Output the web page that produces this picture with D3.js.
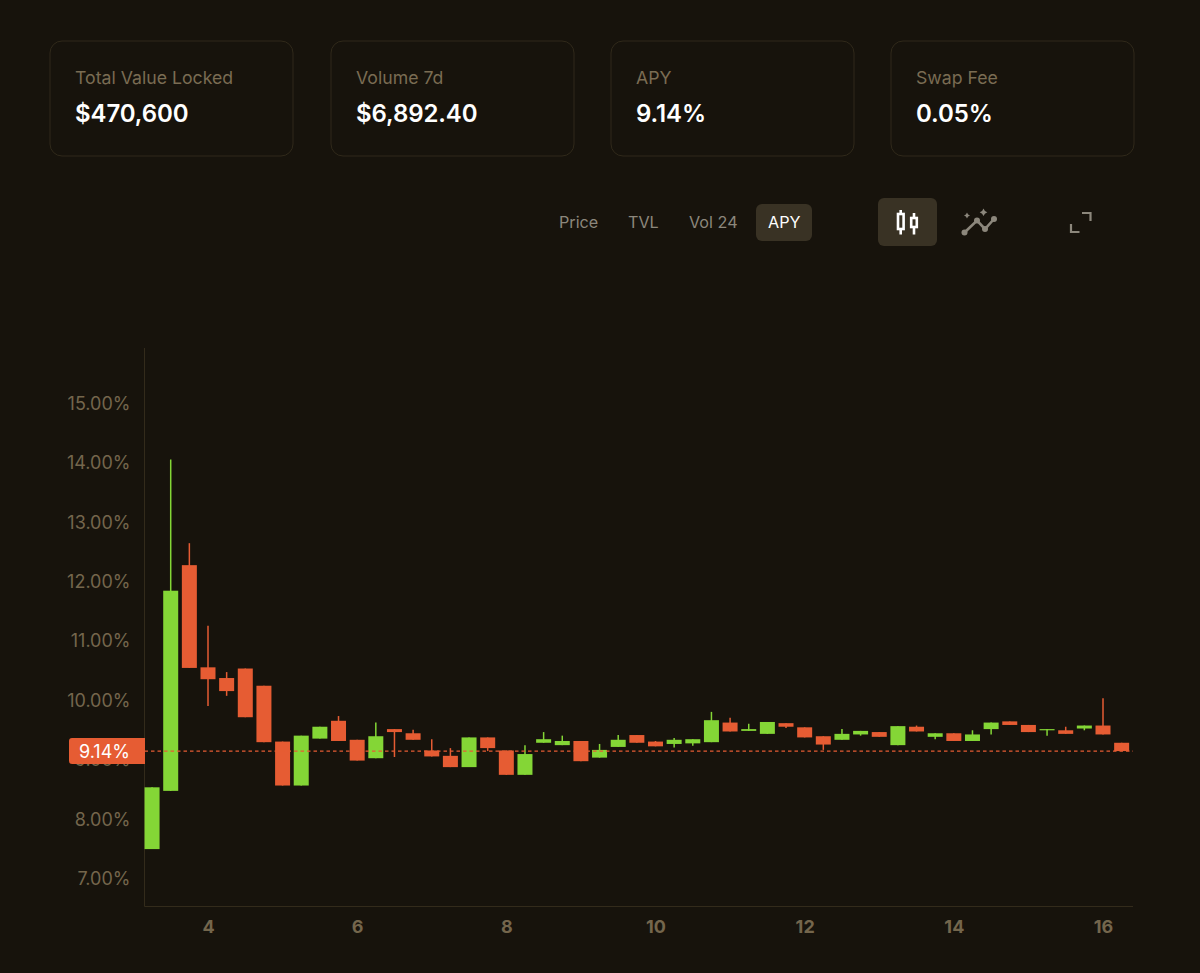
<!DOCTYPE html>
<html>
<head>
<meta charset="utf-8">
<title>APY</title>
<script src="https://cdn.jsdelivr.net/npm/d3@7/dist/d3.min.js"></script>
<style>
	html, body { margin: 0; padding: 0; background: #17130c; }
	svg { display: block; font-family: Inter, sans-serif; }
</style>
</head>
<body>
<div id="chart"></div>
<script>
// values
var statLabels = ["Total Value Locked", "Volume 7d", "APY", "Swap Fee"];
var statValues = ["$470,600", "$6,892.40", "9.14%", "0.05%"];
var tabLabels = ["Price", "TVL", "Vol 24", "APY"];

var days = [3.25, 3.5, 3.75, 4, 4.25, 4.5, 4.75, 5, 5.25, 5.5, 5.75, 6, 6.25, 6.5, 6.75, 7, 7.25, 7.5,
	7.75, 8, 8.25, 8.5, 8.75, 9, 9.25, 9.5, 9.75, 10, 10.25, 10.5, 10.75, 11, 11.25, 11.5, 11.75, 12,
	12.25, 12.5, 12.75, 13, 13.25, 13.5, 13.75, 14, 14.25, 14.5, 14.75, 15, 15.25, 15.5, 15.75, 16, 16.25];
var opens = [7.49, 8.47, 12.27, 10.55, 10.37, 10.53, 10.24, 9.30, 8.56, 9.35, 9.65, 9.33, 9.02, 9.51, 9.44, 9.15, 9.06, 8.87,
	9.37, 9.15, 8.74, 9.28, 9.24, 9.31, 9.03, 9.21, 9.41, 9.30, 9.26, 9.27, 9.29, 9.62, 9.48, 9.43, 9.61, 9.54,
	9.39, 9.33, 9.42, 9.46, 9.24, 9.55, 9.38, 9.44, 9.31, 9.51, 9.64, 9.58, 9.49, 9.49, 9.52, 9.57, 9.28];
var closes = [8.53, 11.84, 10.54, 10.35, 10.15, 9.71, 9.29, 8.56, 9.40, 9.55, 9.31, 8.98, 9.39, 9.46, 9.33, 9.05, 8.87, 9.37,
	9.19, 8.74, 9.09, 9.34, 9.31, 8.97, 9.16, 9.33, 9.28, 9.22, 9.33, 9.34, 9.66, 9.47, 9.51, 9.63, 9.55, 9.37,
	9.25, 9.43, 9.48, 9.38, 9.56, 9.47, 9.44, 9.31, 9.42, 9.62, 9.58, 9.46, 9.51, 9.43, 9.57, 9.42, 9.14];
var highs = [8.53, 14.05, 12.64, 11.25, 10.47, 10.53, 10.24, 9.30, 9.40, 9.55, 9.73, 9.33, 9.62, 9.51, 9.50, 9.34, 9.19, 9.37,
	9.37, 9.15, 9.24, 9.46, 9.40, 9.31, 9.26, 9.41, 9.41, 9.31, 9.36, 9.34, 9.80, 9.70, 9.60, 9.63, 9.61, 9.54,
	9.39, 9.51, 9.48, 9.46, 9.56, 9.57, 9.44, 9.44, 9.49, 9.62, 9.64, 9.58, 9.51, 9.55, 9.57, 10.03, 9.28];
var lows = [7.49, 8.47, 10.54, 9.90, 10.07, 9.71, 9.29, 8.56, 8.56, 9.35, 9.31, 8.98, 9.02, 9.04, 9.33, 9.05, 8.87, 8.87,
	9.14, 8.74, 8.74, 9.28, 9.24, 8.97, 9.03, 9.21, 9.28, 9.22, 9.20, 9.23, 9.29, 9.47, 9.48, 9.43, 9.53, 9.37,
	9.16, 9.33, 9.40, 9.38, 9.24, 9.47, 9.34, 9.31, 9.31, 9.42, 9.58, 9.46, 9.40, 9.43, 9.49, 9.42, 9.14];

var yTicks = [7, 8, 9, 10, 11, 12, 13, 14, 15];
var xTicks = [4, 6, 8, 10, 12, 14, 16];
var currentApy = 9.14;

var width = 1200, height = 973;
var bodyWidth = 15;
var upColor = "#84d636", downColor = "#e65c33";
var tickColor = "#74664c", cardStroke = "#30291a", labelColor = "#7a6c53";

var svg = d3.select("#chart").append("svg")
	.attr("width", width)
	.attr("height", height)
	.attr("viewBox", "0 0 " + width + " " + height);

svg.append("rect")
	.attr("width", width)
	.attr("height", height)
	.attr("fill", "#17130c");

// Stat cards
var cardX = [49.5, 330.5, 610.5, 890.5];
var cards = svg.selectAll(".card")
	.data(statLabels)
	.enter()
	.append("g")
	.attr("class", "card")
	.attr("transform", function(d, i) { return "translate(" + cardX[i] + ",40.5)"; });

cards.append("rect")
	.attr("x", 0.5)
	.attr("y", 0.5)
	.attr("width", 243)
	.attr("height", 115)
	.attr("rx", 12)
	.attr("fill", "none")
	.attr("stroke", cardStroke);

cards.append("text")
	.attr("x", 25.5)
	.attr("y", 43)
	.attr("fill", labelColor)
	.style("font-size", "17.7px")
	.text(function(d) { return d; });

cards.append("text")
	.attr("x", 25.5)
	.attr("y", 81.5)
	.attr("fill", "#ffffff")
	.style("font-size", "24px")
	.style("font-weight", 600)
	.style("letter-spacing", "-0.1px")
	.text(function(d, i) { return statValues[i]; });

// Tabs
var tabX = [559, 628, 689, 768];
svg.append("rect")
	.attr("x", 756)
	.attr("y", 204)
	.attr("width", 56)
	.attr("height", 37)
	.attr("rx", 6)
	.attr("fill", "#393224");

svg.selectAll(".tab")
	.data(tabLabels)
	.enter()
	.append("text")
	.attr("class", "tab")
	.attr("x", function(d, i) { return tabX[i]; })
	.attr("y", 228)
	.attr("fill", function(d) { return d == "APY" ? "#ffffff" : "#8c877c"; })
	.style("font-size", "16.2px")
	.text(function(d) { return d; });

// Icon buttons
svg.append("rect")
	.attr("x", 878)
	.attr("y", 198)
	.attr("width", 59)
	.attr("height", 48)
	.attr("rx", 6)
	.attr("fill", "#393224");

var candleIcon = svg.append("g")
	.attr("fill", "none")
	.attr("stroke", "#ffffff")
	.attr("stroke-width", 2.6);
candleIcon.append("path").attr("d", "M900.7 210V214M900.7 229V234.5M914 213V218M914 227V234.5");
candleIcon.append("rect").attr("x", 898).attr("y", 214).attr("width", 5.6).attr("height", 15);
candleIcon.append("rect").attr("x", 911.2).attr("y", 218).attr("width", 5.6).attr("height", 9);

var lineIcon = svg.append("g").attr("fill", "#8c877c");
lineIcon.append("path")
	.attr("d", "M964.5 232.5L977 220.5L985 229L994 219")
	.attr("fill", "none")
	.attr("stroke", "#8c877c")
	.attr("stroke-width", 2.6);
[[964.5, 232.5], [977, 220.5], [985, 229], [994, 219]].forEach(function(p) {
	lineIcon.append("circle").attr("cx", p[0]).attr("cy", p[1]).attr("r", 3);
});
lineIcon.append("path").attr("d", "M967 212.5L968.1 214.4L970 215.5L968.1 216.6L967 218.5L965.9 216.6L964 215.5L965.9 214.4Z");
lineIcon.append("path").attr("d", "M983.5 208.5L984.9 210.9L987.3 212.3L984.9 213.7L983.5 216.1L982.1 213.7L979.7 212.3L982.1 210.9Z");

svg.append("path")
	.attr("d", "M1082 213H1090.5V221M1071 224V232H1079.5")
	.attr("fill", "none")
	.attr("stroke", "#8c877c")
	.attr("stroke-width", 2.2);

// Chart scales, range is taken from the tick positions
var x = d3.scaleLinear().domain([4, 16]).range([208, 1103]);
var y = d3.scaleLinear().domain([7, 15]).range([878.2, 403]);

var plotLeft = 144.5, plotRight = 1133, plotTop = 348, plotBottom = 906.5;

var yAxis = d3.axisLeft(y)
	.tickValues(yTicks)
	.tickSize(0)
	.tickPadding(14)
	.tickFormat(function(d) { return d3.format(".2f")(d) + "%"; });

var yG = svg.append("g")
	.attr("transform", "translate(" + plotLeft + ",0.5)")
	.call(yAxis);
yG.select(".domain").remove();
yG.selectAll("text")
	.attr("fill", tickColor)
	.style("font-family", "Inter, sans-serif")
	.style("font-size", "18px");

var xAxis = d3.axisBottom(x)
	.tickValues(xTicks)
	.tickSize(0)
	.tickPadding(14)
	.tickFormat(d3.format("d"));

var xG = svg.append("g")
	.attr("transform", "translate(0," + plotBottom + ")")
	.call(xAxis);
xG.select(".domain").remove();
xG.selectAll("text")
	.attr("fill", tickColor)
	.style("font-family", "Inter, sans-serif")
	.style("font-size", "18px")
	.style("font-weight", 700);

svg.append("path")
	.attr("d", "M" + plotLeft + " " + plotTop + "V" + plotBottom + "H" + plotRight)
	.attr("fill", "none")
	.attr("stroke", "#332b1b");

// Candles
var candles = svg.selectAll(".candle")
	.data(days)
	.enter()
	.append("g")
	.attr("class", "candle");

function candleColor(i) {
	return closes[i] >= opens[i] ? upColor : downColor;
}

candles.append("line")
	.attr("x1", function(d) { return x(d); })
	.attr("x2", function(d) { return x(d); })
	.attr("y1", function(d, i) { return y(highs[i]); })
	.attr("y2", function(d, i) { return y(lows[i]); })
	.attr("stroke-width", 1.5)
	.attr("stroke", function(d, i) { return candleColor(i); });

candles.append("rect")
	.attr("x", function(d) { return x(d) - bodyWidth / 2; })
	.attr("y", function(d, i) { return y(Math.max(opens[i], closes[i])); })
	.attr("width", bodyWidth)
	.attr("height", function(d, i) { return Math.abs(y(opens[i]) - y(closes[i])); })
	.attr("fill", function(d, i) { return candleColor(i); });

// Current value line and badge
svg.append("line")
	.attr("x1", plotLeft)
	.attr("x2", plotRight)
	.attr("y1", y(currentApy))
	.attr("y2", y(currentApy))
	.attr("stroke", downColor)
	.attr("stroke-width", 1.2)
	.attr("stroke-dasharray", "3.5 3");

var badgeY = y(currentApy);
svg.append("path")
	.attr("d", "M145 " + (badgeY - 13) + "H72q-3 0 -3 3V" + (badgeY + 10) + "q0 3 3 3H145Z")
	.attr("fill", downColor);

svg.append("text")
	.attr("x", 130)
	.attr("y", badgeY + 6.5)
	.attr("text-anchor", "end")
	.attr("fill", "#ffffff")
	.style("font-size", "18px")
	.text(d3.format(".2f")(currentApy) + "%");
</script>
</body>
</html>
